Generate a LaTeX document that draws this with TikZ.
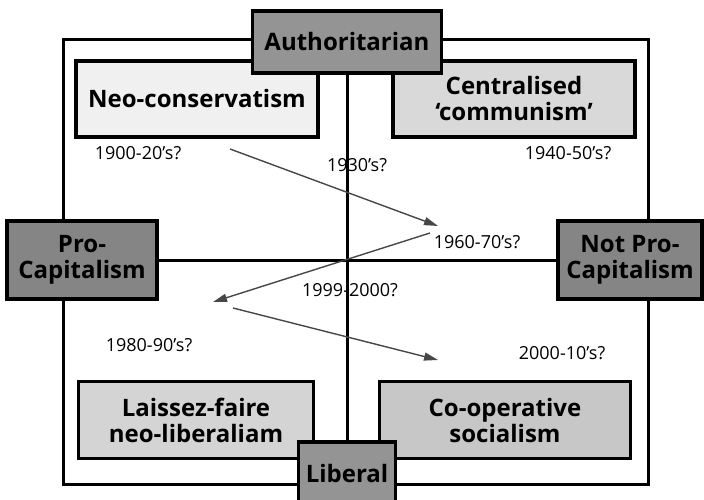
\documentclass[tikz,border=0pt]{standalone}
\usepackage{fontspec}
\setmainfont{Open Sans}
\usetikzlibrary{arrows.meta,backgrounds}
\begin{document}
\begin{tikzpicture}[x=1pt,y=-1pt,
  box/.style={draw,line width=3.5pt,align=center,inner sep=0pt,font=\fontsize{24}{26}\selectfont\bfseries},
  axisbox/.style={box,fill=black!42},
  yearlabel/.style={inner sep=0pt,font=\fontsize{18}{20}\selectfont},
  trend/.style={draw=black!72,line width=1.4pt,-{Triangle[length=14pt,width=8pt]}}]
\useasboundingbox (0,0) rectangle (704,500);

\node [box,fill=black!6,minimum width=242pt,minimum height=76pt] (neocon) at (197,99) {Neo-conservatism};
\node [box,fill=black!15,minimum width=242pt,minimum height=76pt] (central) at (514,99) {Centralised\\`communism'};
\node [box,fill=black!17,minimum width=235pt,minimum height=77pt] (laissez) at (196,420) {Laissez-faire\\neo-liberaliam};
\node [box,fill=black!22,minimum width=251pt,minimum height=77pt] (coop) at (505,420) {Co-operative\\socialism};

\node [axisbox,minimum width=189pt,minimum height=62pt] (auth) at (347,42) {Authoritarian};
\node [axisbox,minimum width=97pt,minimum height=62pt] (liberal) at (347,473) {Liberal};
\node [axisbox,fill=black!48,minimum width=150pt,minimum height=78pt] (procap) at (82,260) {Pro-\\Capitalism};
\node [axisbox,fill=black!48,minimum width=144pt,minimum height=78pt] (notpro) at (630,260) {Not Pro-\\Capitalism};

\begin{scope}[on background layer]
\draw [line width=3pt] (63,40) rectangle (648,484);
\draw [line width=3pt] (auth) -- (liberal);
\draw [line width=3pt] (procap) -- (notpro);
\end{scope}

\node [yearlabel] (y1900) at (138,153) {1900-20's?};
\node [yearlabel] (y1930) at (357,165) {1930's?};
\node [yearlabel] (y1940) at (568,153) {1940-50's?};
\node [yearlabel] (y1960) at (477,242) {1960-70's?};
\node [yearlabel] (y1999) at (350,290) {1999-2000?};
\node [yearlabel] (y1980) at (149,345) {1980-90's?};
\node [yearlabel] (y2000) at (562,353) {2000-10's?};

\coordinate (p1) at (230,149);
\coordinate (p2) at (438,226);
\coordinate (p3) at (430,233);
\coordinate (p4) at (213,302);
\coordinate (p5) at (233,308);
\coordinate (p6) at (438,360);
\draw [trend] (p1) -- (p2);
\draw [trend] (p3) -- (p4);
\draw [trend] (p5) -- (p6);
\end{tikzpicture}
\end{document}
